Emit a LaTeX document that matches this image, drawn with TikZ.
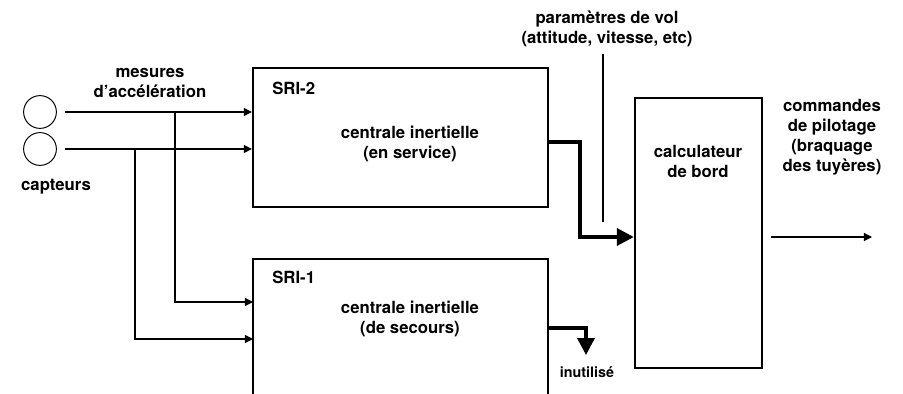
\documentclass[tikz,border=0pt]{standalone}
\usepackage{fontspec}
\setmainfont{TeX Gyre Heros}
\usetikzlibrary{arrows.meta}

\tikzset{
    box/.style={draw, line width=1.6pt, inner sep=0pt},
    sensor/.style={draw, circle, line width=0.7pt, minimum size=0.82cm, inner sep=0pt},
    label/.style={font=\fontsize{11.9}{14.2}\selectfont\bfseries, align=center, inner sep=0pt},
    wire/.style={line width=0.8pt},
    signal/.style={wire, -{Triangle[length=5.7pt,width=5.7pt]}},
    bus/.style={line width=2.5pt, -{Triangle[length=12pt,width=12pt]}},
}

\begin{document}
\begin{tikzpicture}[x=0.025cm, y=-0.025cm]
                \useasboundingbox (0,0) rectangle (903,394);
                \clip (0,0) rectangle (903,394);

                %% capteurs
                \node[sensor] (c1) at (40,112) {};
                \node[sensor] (c2) at (40,149) {};
                \node[label] (capt) at (56,187) {capteurs};
                \node[label] (mes) at (150,83) {mesures\\d’accélération};

                %% SRI-2
                \node[box, minimum width=7.375cm, minimum height=3.475cm] (sri2) at (400.5,137.5) {};
                \node[label, anchor=west] (sri2name) at (272,88) {SRI-2};
                \node[label] (sri2txt) at (410,144) {centrale inertielle\\(en service)};

                %% SRI-1
                \node[box, minimum width=7.375cm, minimum height=4cm] (sri1) at (400.5,339) {};
                \node[label, anchor=west] (sri1name) at (272,277) {SRI-1};
                \node[label] (sri1txt) at (410,319) {centrale inertielle\\(de secours)};

                %% calculateur
                \node[box, minimum width=3.175cm, minimum height=6.75cm] (calc) at (698.5,233) {};
                \node[label] (calctxt) at (698,161) {calculateur\\de bord};

                \node[label] (param) at (607,29) {paramètres de vol\\(attitude, vitesse, etc)};
                \node[label] (cmd) at (832,137) {commandes\\de pilotage\\(braquage\\des tuyères)};
                \node[label, font=\fontsize{10.2}{12}\selectfont\bfseries] (inut) at (587,372) {inutilisé};

                % mesures
                \coordinate (j1) at (175,112);
                \coordinate (j2) at (135,149);
                \coordinate (s1a) at (253,302);
                \coordinate (s1b) at (253,339);
                \draw[signal, shorten <=0.2cm] (c1.east) -- (c1.east -| sri2.west);
                \draw[signal, shorten <=0.2cm] (c2.east) -- (c2.east -| sri2.west);
                \draw[signal] (j1) |- (s1a);
                \draw[signal] (j2) |- (s1b);

                % sorties SRI
                \coordinate (o2) at (548,142);
                \coordinate (k2) at (580,237);
                \draw[bus] (o2) -| (k2) -- (k2 -| calc.west);
                \coordinate (o1) at (548,328);
                \coordinate (u1) at (586,355);
                \draw[bus] (o1) -| (u1);

                % parametres
                \coordinate (p1) at (603,54);
                \coordinate (p2) at (603,222);
                \draw[wire] (p1) -- (p2);

                % commandes
                \coordinate (q2) at (872,237);
                \draw[signal, shorten <=0.2cm] (calc.east |- k2) -- (q2);

            \end{tikzpicture}
\end{document}
